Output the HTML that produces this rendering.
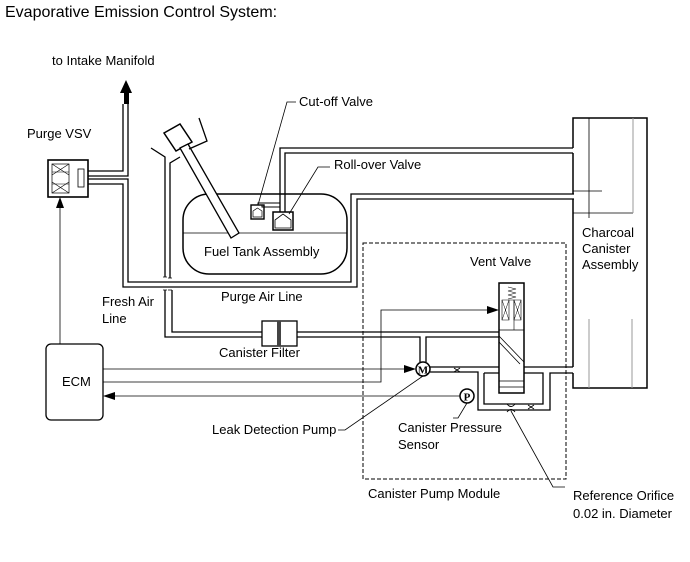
<!DOCTYPE html>
<html><head><meta charset="utf-8"><style>
html,body{margin:0;padding:0;background:#fff;}
svg{display:block;}
text{font-family:"Liberation Sans",Arial,sans-serif;font-size:13px;fill:#000;}
</style></head><body>
<svg width="690" height="562" viewBox="0 0 690 562" xmlns="http://www.w3.org/2000/svg">
<g fill="none" stroke="#000" stroke-width="1.3">
<rect x="48" y="160" width="40" height="37" stroke-width="1.6"/>
<rect x="52" y="164" width="17" height="29" stroke-width="0.7"/>
<path d="M52,164 L69,175 M69,164 L52,175 M52,182 L69,193 M69,182 L52,193" stroke-width="0.6"/>
<path d="M52,172 H69 M52,184 H69" stroke-width="0.6"/>
<rect x="78" y="169" width="6" height="18" stroke-width="0.8"/>
<path d="M88,171 H123 V104 M88,176 H128 V104"/>
<path d="M88,179 H128 V282 H351 V194 H574 M88,184 H123 V287 H357 V199 H574"/>
<path d="M280,212 V148 H573 M285,212 V153 H573"/>
<path d="M258,205 V203 H280 M262,205 V207 H280" stroke-width="1"/>
<path d="M573,148 V118 H647 V388 H573 V373 M573,153 V194 M573,199 V367" stroke-width="1.5"/>
<path d="M589,118 V218 M573,191 H602 M573,213 H633" stroke-width="0.8"/>
<path d="M633,118 V213 M589,319 V388 M632,319 V388" stroke="#999" stroke-width="1"/>
<rect x="183" y="194" width="164" height="80" rx="26" stroke-width="1.5"/>
<path d="M183,233 H347" stroke-width="0.8"/>
<rect x="251" y="205" width="13" height="14" stroke-width="1.4"/>
<path d="M253,217 V211 L257.5,208 L262,211 V217 Z" stroke-width="0.7"/>
<rect x="273" y="212" width="20" height="18" stroke-width="1.5"/>
<path d="M275,228 V220 L283,214 L291,220 V228 Z" stroke-width="0.8"/>
<polygon points="164,133 180,124 192,142 176,151" stroke-width="1.5" fill="#fff"/>
<polygon points="180,148 188,144 239,233 231,238" stroke-width="1.3" fill="#fff"/>
<path d="M199,118 L207,141 L189,149"/>
<path d="M151,148 L165,157 V277 M180,157 L170,163 V278"/>
<path d="M163,277 H167 M168,278 H172 M163,290 H167 M168,290 H172" stroke-width="0.8"/>
<path d="M165,290 V337 H262 M172,290 V332 H262"/>
<rect x="262" y="321" width="35" height="25" fill="#fff"/>
<rect x="277" y="321" width="4" height="25" fill="#444" stroke="none"/>
<path d="M297,332 H499 M297,337 H420 V362 M426,362 V337 H499"/>
<path d="M430,367 H499 M524,367 H573 M430,372 H478 V410 H550 V373 H573 M484,373 V404 H543 V373 H524 M484,373 H499"/>
<rect x="499" y="283" width="25" height="110" stroke-width="1.5" fill="#fff"/>
<path d="M502,300 H509 V320 H502 Z M514,300 H521 V320 H514 Z" stroke-width="0.6"/>
<path d="M502,300 L509,320 M509,300 L502,320 M514,300 L521,320 M521,300 L514,320" stroke-width="0.5"/>
<path d="M508,287 L516,289 L508,291 L516,293 L508,295 L516,297 L508,299" stroke-width="0.6"/>
<path d="M509,300 H514 V330" stroke-width="0.6"/>
<path d="M499,330 H524 M499,336 L524,362 M499,342 L520,364" stroke-width="0.8"/>
<path d="M499,381 H524 M499,387 H524" stroke-width="0.7"/>
<path d="M454,368 L460,372 M460,368 L454,372 M528,405 L534,409 M534,405 L528,409" stroke-width="0.8"/>
<path d="M507,404 Q511,409 515,404 M507,412 Q511,407 515,412" stroke-width="0.9"/>
<rect x="363" y="243" width="203" height="236" stroke-dasharray="4,2" stroke-width="1"/>
<g stroke-width="0.8">
<path d="M60,344 V200"/>
<path d="M103,369 H412"/>
<path d="M103,382 H381 V310 H488"/>
<path d="M113,396 H460"/>
<path d="M423,376 L345,430 H338"/>
<path d="M467,403 L458,418 H453"/>
<path d="M511,411 L553,487 H565"/>
<path d="M258,205 L287,102 H296"/>
<path d="M289,214 L318,167 H330"/>
</g>
</g>
<g fill="#000">
<polygon points="126,80 120,93 132,93"/>
<rect x="124" y="92" width="5" height="12"/>
<polygon points="60,197 56,208 64,208"/>
<polygon points="416,369 404,365 404,373"/>
<polygon points="499,310 487,306 487,314"/>
<polygon points="103,396 115,392 115,400"/>
</g>
<circle cx="423" cy="369" r="7" fill="#fff" stroke="#000" stroke-width="1.5"/>
<text x="423" y="373.5" text-anchor="middle" style="font-family:'Liberation Serif',serif;font-weight:bold;font-size:11px">M</text>
<circle cx="467" cy="396" r="7" fill="#fff" stroke="#000" stroke-width="1.5"/>
<text x="467" y="400.5" text-anchor="middle" style="font-family:'Liberation Serif',serif;font-weight:bold;font-size:11px">P</text>
<rect x="46" y="344" width="57" height="76" rx="5" fill="#fff" stroke="#000" stroke-width="1.3"/>
<text x="5" y="17" style="font-size:16px">Evaporative Emission Control System:</text>
<text x="52" y="65">to Intake Manifold</text>
<text x="27" y="138">Purge VSV</text>
<text x="299" y="106">Cut-off Valve</text>
<text x="334" y="169">Roll-over Valve</text>
<text x="204" y="256">Fuel Tank Assembly</text>
<text x="582" y="237">Charcoal</text>
<text x="582" y="253">Canister</text>
<text x="582" y="269">Assembly</text>
<text x="470" y="266">Vent Valve</text>
<text x="221" y="301">Purge Air Line</text>
<text x="102" y="306">Fresh Air</text>
<text x="102" y="323">Line</text>
<text x="219" y="357">Canister Filter</text>
<text x="62" y="386">ECM</text>
<text x="212" y="434">Leak Detection Pump</text>
<text x="398" y="432">Canister Pressure</text>
<text x="398" y="449">Sensor</text>
<text x="368" y="498">Canister Pump Module</text>
<text x="573" y="500">Reference Orifice</text>
<text x="573" y="518">0.02 in. Diameter</text>
</svg>
</body></html>
